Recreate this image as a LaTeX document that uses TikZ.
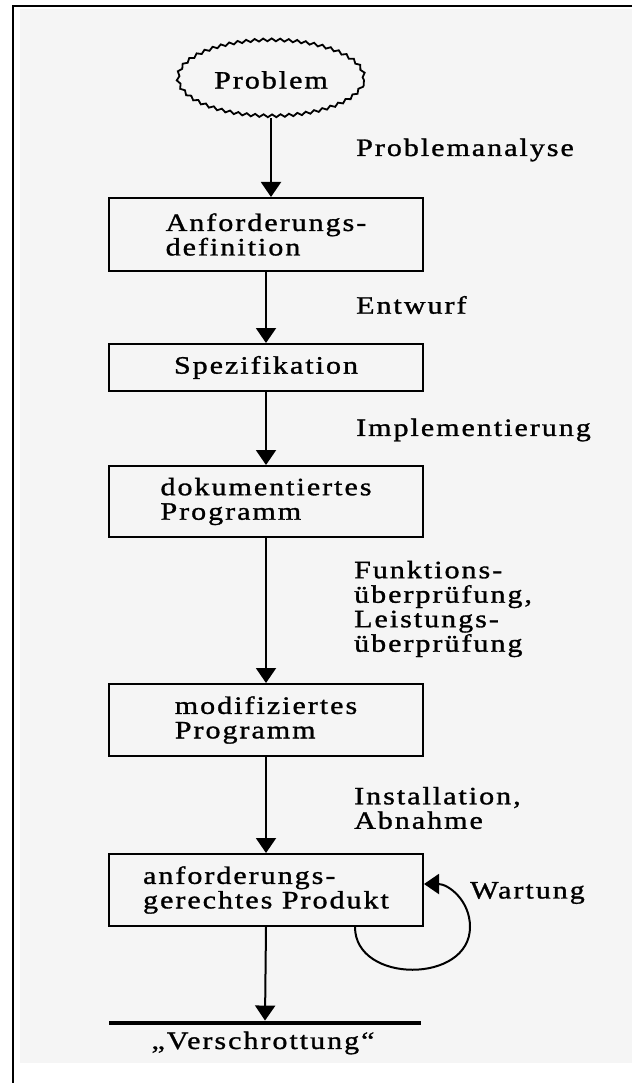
\documentclass[tikz,border=0pt]{standalone}
\usepackage{fontspec}
\setmainfont{Liberation Serif}[FakeStretch=1.2,LetterSpace=8,FakeBold=1.2]
\usetikzlibrary{arrows.meta,decorations.pathmorphing,shapes.geometric,calc}

\begin{document}
\begin{tikzpicture}[x=1pt,y=-1pt,
  txt/.style={font=\fontsize{25}{24.5}\selectfont, inner sep=0pt},
  stage/.style={draw, line width=2pt, minimum width=314pt, txt, align=left},
  flow/.style={line width=2pt, -{Triangle[width=20pt,length=15pt]}},
  lbl/.style={txt, anchor=west, align=left},
  wavy/.style={line width=1.8pt, decorate, decoration={snake, amplitude=1.4pt, segment length=8.5pt}},
]
\useasboundingbox (0,0) rectangle (632,1083);
% paper and frame
\fill[black!4] (20,9) rectangle (632,1063);
\draw[line width=2.8pt] (632,6) -- (13,6) -- (13,1083);

% start: the problem cloud
\node[txt, ellipse, minimum width=186pt, minimum height=76pt] (prob) at (271,80) {Problem};
\draw[wavy] (prob.center) ellipse [x radius=93pt, y radius=38pt];

% stages of the life cycle
\node[stage, minimum height=73pt] (A) at (266,234.5) {Anforderungs-\\definition};
\node[stage, minimum height=47pt] (S) at (266,367.5) {Spezifikation};
\node[stage, minimum height=71pt] (D) at (266,501.5) {dokumentiertes\\Programm};
\node[stage, minimum height=72pt] (M) at (266,720) {modifiziertes\\Programm};
\node[stage, minimum height=72pt] (P) at (266,890) {anforderungs-\\gerechtes Produkt};

% end bar
\node[fill, minimum width=312pt, minimum height=4.5pt, inner sep=0pt] (bar) at (265,1023) {};
\node[txt] (scrap) at (263,1043) {„Verschrottung“};

% activities
\node[lbl] (l1) at (356,150) {Problemanalyse};
\node[lbl] (l2) at (356,305) {Entwurf};
\node[lbl] (l3) at (356,430) {Implementierung};
\node[lbl] (l4) at (354,609) {Funktions-\\überprüfung,\\Leistungs-\\überprüfung};
\node[lbl] (l5) at (354,808) {Installation,\\Abnahme};
\node[lbl] (l6) at (470,893) {Wartung};

% connectors
\draw[flow] (prob.south) -- (prob.south |- A.north);
\draw[flow] (A.south) -- (S.north);
\draw[flow] (S.south) -- (D.north);
\draw[flow] (D.south) -- (M.north);
\draw[flow] (M.south) -- (P.north);
\draw[flow] (P.south) -- (bar.north);
% maintenance loop
\draw[flow] ([xshift=89pt]P.south) .. controls +(0,57) and +(0,57) .. ([xshift=204pt]P.south)
  .. controls +(0,-27) and +(24,0) .. ([yshift=6pt]P.east);
\end{tikzpicture}
\end{document}
